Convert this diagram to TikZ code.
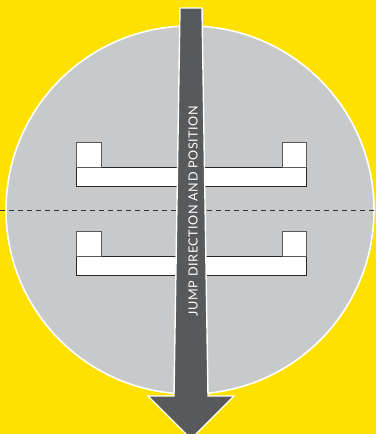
\documentclass[tikz,border=0pt]{standalone}
\usepackage{fontspec}
\setmainfont{Lato}
\newfontfamily\labelfont[LetterSpace=4.5]{Lato}
\definecolor{bgyellow}{HTML}{FFE100}
\definecolor{circgray}{HTML}{C8C9CB}
\definecolor{arrowgray}{HTML}{58595B}
\definecolor{edgegray}{HTML}{5A5A5A}
\tikzset{
  padbox/.style={fill=white, draw=edgegray, line width=0.9pt},
  barbox/.style={fill=white, draw=black!85, line width=0.9pt},
}
\begin{document}
\begin{tikzpicture}[x=1pt,y=-1pt]
\useasboundingbox (0,0) rectangle (376,434);
\fill[bgyellow] (0,0) rectangle (376,434);
% circle
\fill[circgray, draw=white, line width=1.6pt] (190,210) circle (184);
% upper pair
\draw[barbox] (76,167) rectangle (306,186);
\draw[padbox] (76,142) rectangle (101,167);
\draw[padbox] (282,142) rectangle (306,167);
% lower pair
\draw[barbox] (76,256) rectangle (306,275);
\draw[padbox] (76,231) rectangle (101,256);
\draw[padbox] (282,231) rectangle (306,256);
% dashed centre line
\draw[black!80, line width=0.7pt, dash pattern=on 5pt off 4pt] (0,210) -- (376,210);
% arrow
\fill[arrowgray, draw=white, line width=1.4pt, line join=miter]
  (180,8) -- (202,8) -- (208,396) -- (234,396) -- (191,439) -- (148,396) -- (174,396) -- cycle;
\node[text=white, rotate=90, font=\labelfont\fontsize{12.6}{14}\selectfont] (label) at (193,211) {JUMP DIRECTION AND POSITION};
\end{tikzpicture}
\end{document}
